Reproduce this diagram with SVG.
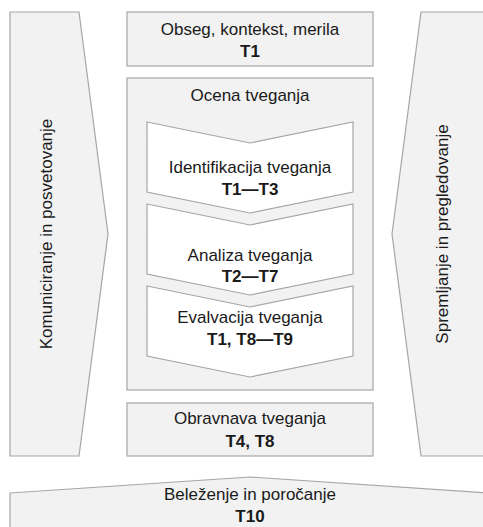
<svg xmlns="http://www.w3.org/2000/svg" width="483" height="527" viewBox="0 0 483 527">
<style>
  .box { fill: #f2f2f2; stroke: #a6a6a6; stroke-width: 1.2; }
  .chev { fill: #ffffff; stroke: #a6a6a6; stroke-width: 1.2; }
  text { font-family: "Liberation Sans", Arial, sans-serif; font-size: 17px; fill: #1a1a1a; text-anchor: middle; }
  .b { font-weight: bold; }
</style>
<rect x="0" y="0" width="483" height="527" fill="#ffffff"/>
<g id="komuniciranje">
  <polygon class="box" points="10,12 79,12 108,234 79,456 10,456"/>
  <text transform="translate(52,234) rotate(-90)">Komuniciranje in posvetovanje</text>
</g>
<g id="spremljanje">
  <polygon class="box" points="421,12 490,12 490,456 421,456 392,234"/>
  <text transform="translate(448,234) rotate(-90)">Spremljanje in pregledovanje</text>
</g>
<g id="obseg">
  <rect class="box" x="127" y="12" width="246" height="54"/>
  <text x="250" y="35">Obseg, kontekst, merila</text>
  <text class="b" x="250" y="57">T1</text>
</g>
<g id="ocena">
  <rect class="box" x="127" y="78" width="246" height="312"/>
  <text x="250" y="101">Ocena tveganja</text>
</g>
<g id="identifikacija">
  <polygon class="chev" points="147,122 250,143 353,122 353,192 250,213 147,192"/>
  <text x="250" y="173">Identifikacija tveganja</text>
  <text class="b" x="250" y="195">T1—T3</text>
</g>
<g id="analiza">
  <polygon class="chev" points="147,204 250,225 353,204 353,274 250,295 147,274"/>
  <text x="250" y="261">Analiza tveganja</text>
  <text class="b" x="250" y="282">T2—T7</text>
</g>
<g id="evalvacija">
  <polygon class="chev" points="147,286 250,307 353,286 353,356 250,377 147,356"/>
  <text x="250" y="323">Evalvacija tveganja</text>
  <text class="b" x="250" y="345">T1, T8—T9</text>
</g>
<g id="obravnava">
  <rect class="box" x="127" y="403" width="246" height="53"/>
  <text x="250" y="424">Obravnava tveganja</text>
  <text class="b" x="250" y="447">T4, T8</text>
</g>
<g id="belezenje">
  <polygon class="box" points="10,493 250,477 490,493 490,540 10,540"/>
  <text x="250" y="500">Beleženje in poročanje</text>
  <text class="b" x="250" y="522">T10</text>
</g>
<g id="connectors"></g>
</svg>
